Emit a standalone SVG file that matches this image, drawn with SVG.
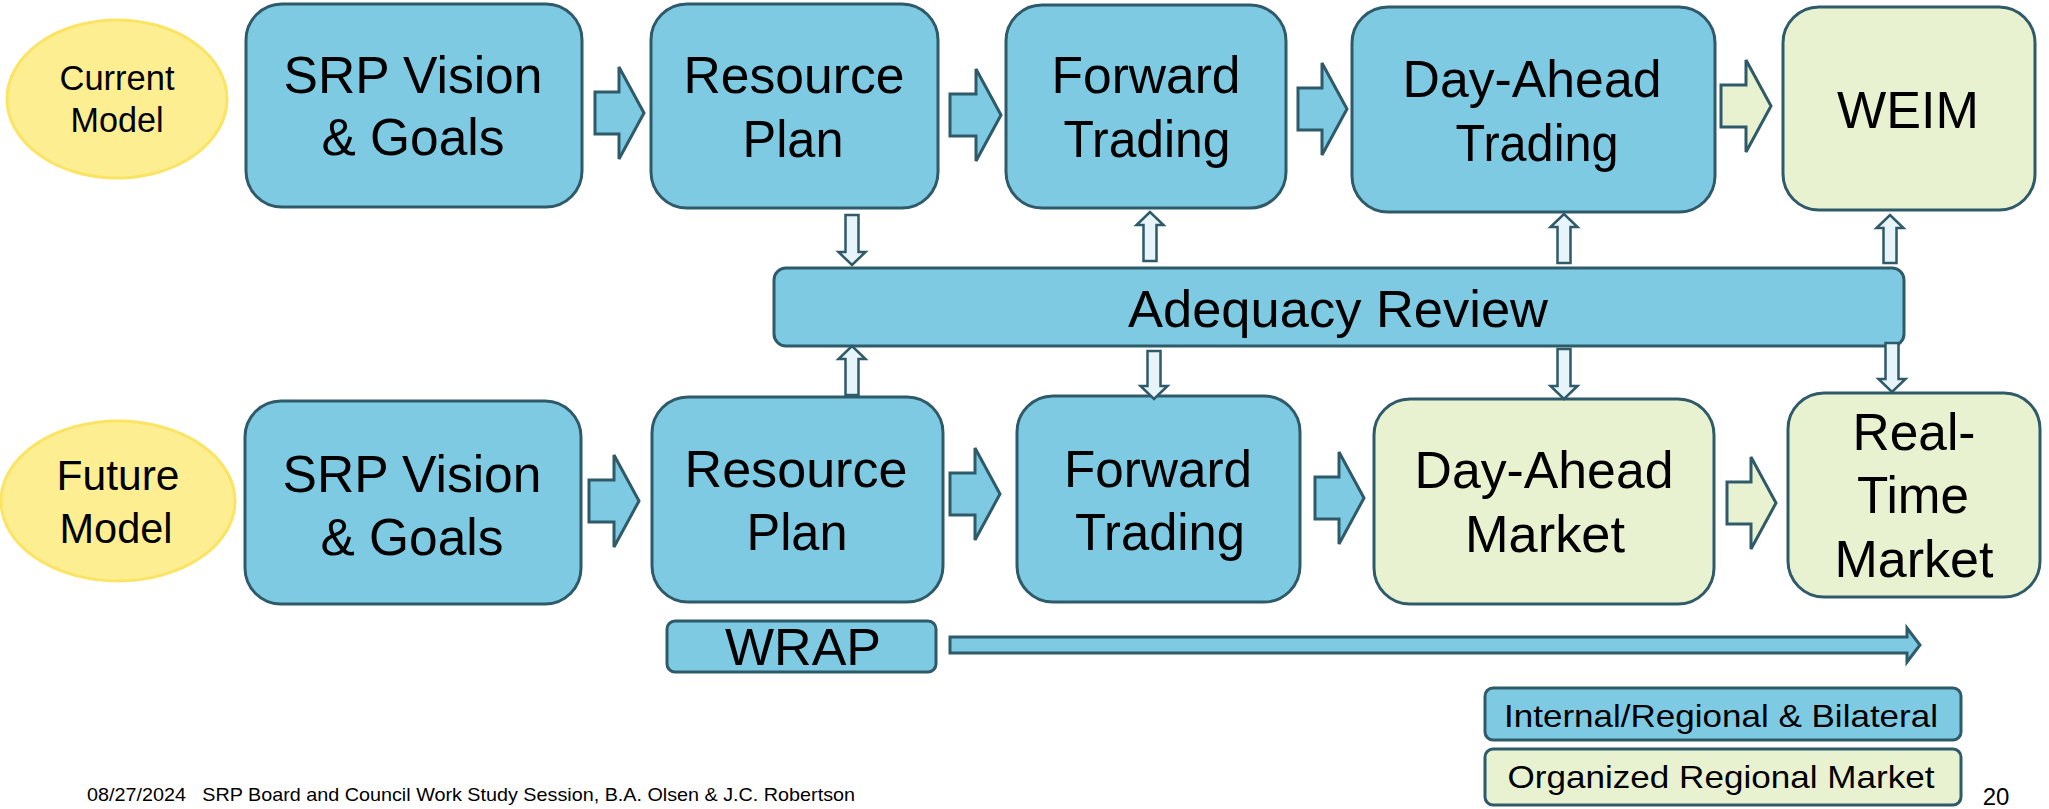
<svg xmlns="http://www.w3.org/2000/svg" width="2049" height="809" viewBox="0 0 2049 809">
<style>
.blue{fill:#7ECAE2;stroke:#2F5A69;stroke-width:3}
.green{fill:#E9F2D0;stroke:#2F5A69;stroke-width:3}
.oval{fill:#FEEE92;stroke:#FBE463;stroke-width:3}
.va{fill:#E7F4F9;stroke:#2F5A69;stroke-width:2.5}
text{font-family:"Liberation Sans",Arial,sans-serif;fill:#000;text-anchor:middle}
.big{font-size:52px}
.leg{font-size:32px}
.foot{font-size:19px;text-anchor:start}
</style>
<rect width="2049" height="809" fill="#fff"/>

<g id="current-model">
<ellipse class="oval" cx="117" cy="99" rx="110" ry="79"/>
<text x="117" y="90" font-size="35" textLength="115" lengthAdjust="spacingAndGlyphs">Current</text>
<text x="117" y="132" font-size="35" textLength="93" lengthAdjust="spacingAndGlyphs">Model</text>
</g>
<g id="future-model">
<ellipse class="oval" cx="118" cy="501" rx="117" ry="80"/>
<text x="118" y="490" font-size="43" textLength="123" lengthAdjust="spacingAndGlyphs">Future</text>
<text x="116" y="543" font-size="43" textLength="113" lengthAdjust="spacingAndGlyphs">Model</text>
</g>

<g id="srp-vision-current">
<rect class="blue" x="246" y="4" width="336" height="203" rx="36"/>
<text class="big" x="413" y="93" textLength="259" lengthAdjust="spacingAndGlyphs">SRP Vision</text>
<text class="big" x="413" y="155" textLength="183" lengthAdjust="spacingAndGlyphs">&amp; Goals</text>
</g>
<g id="resource-plan-current">
<rect class="blue" x="651" y="4" width="287" height="204" rx="36"/>
<text class="big" x="794" y="93" textLength="221" lengthAdjust="spacingAndGlyphs">Resource</text>
<text class="big" x="793" y="157" textLength="101" lengthAdjust="spacingAndGlyphs">Plan</text>
</g>
<g id="forward-trading-current">
<rect class="blue" x="1006" y="5" width="280" height="203" rx="36"/>
<text class="big" x="1146" y="93" textLength="189" lengthAdjust="spacingAndGlyphs">Forward</text>
<text class="big" x="1147" y="157" textLength="167" lengthAdjust="spacingAndGlyphs">Trading</text>
</g>
<g id="day-ahead-trading-current">
<rect class="blue" x="1352" y="7" width="363" height="205" rx="36"/>
<text class="big" x="1532" y="97" textLength="259" lengthAdjust="spacingAndGlyphs">Day-Ahead</text>
<text class="big" x="1537" y="161" textLength="163" lengthAdjust="spacingAndGlyphs">Trading</text>
</g>
<g id="weim">
<rect class="green" x="1783" y="7" width="252" height="203" rx="36"/>
<text class="big" x="1908" y="128" textLength="142" lengthAdjust="spacingAndGlyphs">WEIM</text>
</g>

<g id="adequacy-review">
<rect class="blue" x="774" y="268" width="1130" height="78" rx="12"/>
<text class="big" x="1338" y="327" textLength="420" lengthAdjust="spacingAndGlyphs">Adequacy Review</text>
</g>

<g id="srp-vision-future">
<rect class="blue" x="245" y="401" width="336" height="203" rx="36"/>
<text class="big" x="412" y="492" textLength="259" lengthAdjust="spacingAndGlyphs">SRP Vision</text>
<text class="big" x="412" y="555" textLength="183" lengthAdjust="spacingAndGlyphs">&amp; Goals</text>
</g>
<g id="resource-plan-future">
<rect class="blue" x="652" y="397" width="291" height="205" rx="36"/>
<text class="big" x="796" y="487" textLength="223" lengthAdjust="spacingAndGlyphs">Resource</text>
<text class="big" x="797" y="550" textLength="101" lengthAdjust="spacingAndGlyphs">Plan</text>
</g>
<g id="forward-trading-future">
<rect class="blue" x="1017" y="396" width="283" height="206" rx="36"/>
<text class="big" x="1158" y="487" textLength="188" lengthAdjust="spacingAndGlyphs">Forward</text>
<text class="big" x="1160" y="550" textLength="170" lengthAdjust="spacingAndGlyphs">Trading</text>
</g>
<g id="day-ahead-market">
<rect class="green" x="1374" y="399" width="340" height="205" rx="36"/>
<text class="big" x="1544" y="488" textLength="259" lengthAdjust="spacingAndGlyphs">Day-Ahead</text>
<text class="big" x="1545" y="552" textLength="160" lengthAdjust="spacingAndGlyphs">Market</text>
</g>
<g id="real-time-market">
<rect class="green" x="1788" y="393" width="252" height="204" rx="36"/>
<text class="big" x="1914" y="450" textLength="123" lengthAdjust="spacingAndGlyphs">Real-</text>
<text class="big" x="1913" y="513" textLength="112" lengthAdjust="spacingAndGlyphs">Time</text>
<text class="big" x="1914" y="577" textLength="159" lengthAdjust="spacingAndGlyphs">Market</text>
</g>

<g id="wrap">
<rect class="blue" x="667" y="621" width="269" height="51" rx="8"/>
<text class="big" x="803" y="665" textLength="156" lengthAdjust="spacingAndGlyphs">WRAP</text>
</g>

<g id="connectors">
<path class="blue" d="M595,92 H619 V67 L644,113 L619,159 V134 H595 Z"/>
<path class="blue" d="M950,94 H976 V69 L1001,115 L976,161 V136 H950 Z"/>
<path class="blue" d="M1298,88 H1322 V63 L1347,109 L1322,155 V130 H1298 Z"/>
<path class="green" d="M1721,85 H1746 V60 L1771,106 L1746,152 V127 H1721 Z"/>
<path class="blue" d="M589,480 H614 V455 L639,501 L614,547 V522 H589 Z"/>
<path class="blue" d="M950,473 H975 V448 L1000,494 L975,540 V515 H950 Z"/>
<path class="blue" d="M1315,477 H1339 V452 L1364,498 L1339,544 V519 H1315 Z"/>
<path class="green" d="M1727,482 H1751 V457 L1776,503 L1751,549 V524 H1727 Z"/>

<path class="va" d="M845.5,215 H858.5 V252 H865.5 L852,265 L838.5,252 H845.5 Z"/>
<path class="va" d="M1143.5,261 V225 H1136.5 L1150,212 L1163.5,225 H1156.5 V261 Z"/>
<path class="va" d="M1557.5,263 V227 H1550.5 L1564,214 L1577.5,227 H1570.5 V263 Z"/>
<path class="va" d="M1883.5,263 V228 H1876.5 L1890,215 L1903.5,228 H1896.5 V263 Z"/>
<path class="va" d="M845.5,395 V359 H838.5 L852,346 L865.5,359 H858.5 V395 Z"/>
<path class="va" d="M1147.5,351 H1160.5 V386 H1167.5 L1154,399 L1140.5,386 H1147.5 Z"/>
<path class="va" d="M1557.5,349 H1570.5 V386 H1577.5 L1564,399 L1550.5,386 H1557.5 Z"/>
<path class="va" d="M1885.5,343 H1898.5 V379 H1905.5 L1892,392 L1878.5,379 H1885.5 Z"/>

<path class="blue" d="M950,637 H1907 V628 L1920,645 L1907,662 V653 H950 Z"/>
</g>

<g id="legend-internal">
<rect class="blue" x="1485" y="688" width="476" height="52" rx="8"/>
<text class="leg" x="1721" y="727" textLength="434" lengthAdjust="spacingAndGlyphs">Internal/Regional &amp; Bilateral</text>
</g>
<g id="legend-organized">
<rect class="green" x="1485" y="749" width="476" height="56" rx="8"/>
<text class="leg" x="1721" y="788" textLength="427" lengthAdjust="spacingAndGlyphs">Organized Regional Market</text>
</g>

<text class="foot" x="87" y="801" textLength="768" lengthAdjust="spacingAndGlyphs" xml:space="preserve">08/27/2024   SRP Board and Council Work Study Session, B.A. Olsen &amp; J.C. Robertson</text>
<text x="1996" y="805" font-size="24">20</text>
</svg>
